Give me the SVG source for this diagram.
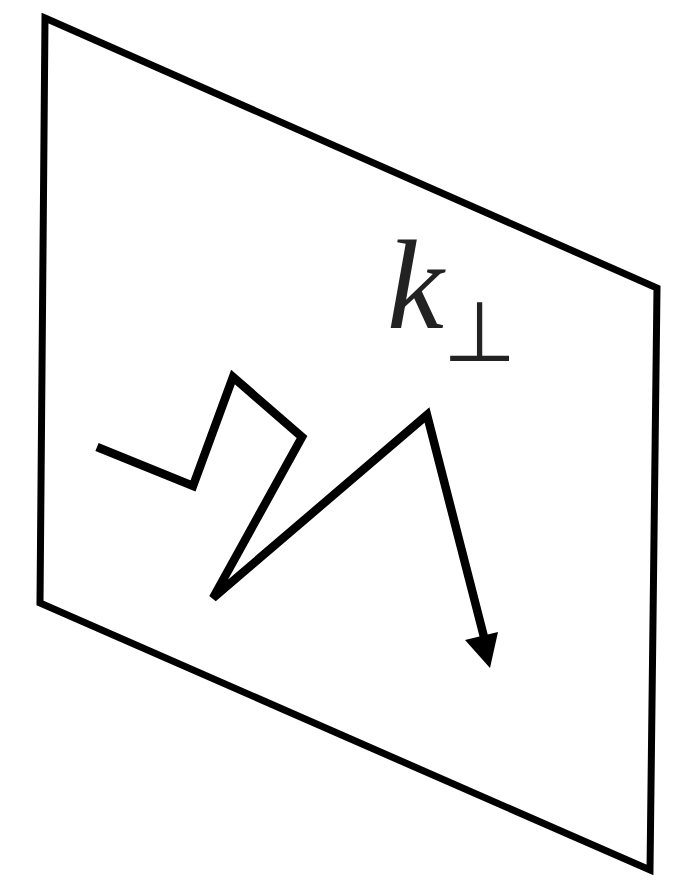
<svg xmlns="http://www.w3.org/2000/svg" width="677" height="880" viewBox="0 0 677 880">
<style>
.ln{fill:none;stroke:#000;stroke-width:8.5;stroke-linejoin:miter;stroke-linecap:butt}
.lbl{fill:#222}
</style>
<rect width="677" height="880" fill="#fff"/>
<g id="plane">
<polygon class="ln" points="45,18 657,288 650,870 40,603" style="stroke-width:7"/>
</g>
<g id="connectors">
<polyline class="ln" points="97,447 193,486 233,377 302,437 213,598 427,415 484,637"/>
<path d="M465,640 L490,668 L498,632 Z" fill="#000"/>
</g>
<g id="label">
<text class="lbl" x="387" y="328" font-family="Liberation Serif, serif" font-style="italic" font-size="128">k</text>
<text class="lbl" x="443" y="361" font-family="DejaVu Sans, sans-serif" font-size="84">⊥</text>
</g>
</svg>
